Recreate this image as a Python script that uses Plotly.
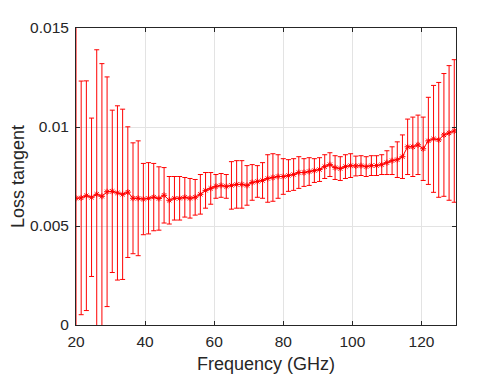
import plotly.graph_objects as go

freq_start = 20.0
freq_step = 1.5

loss_tangent = [
    0.0064, 0.00642, 0.00653, 0.00645, 0.0066, 0.0065, 0.00673, 0.00675, 0.00667, 0.0066,
    0.00671, 0.0064, 0.0064, 0.00636, 0.0064, 0.00646, 0.00639, 0.00655, 0.0063, 0.0064,
    0.0064, 0.00645, 0.0064, 0.00645, 0.0066, 0.0068, 0.0069, 0.0070, 0.00705, 0.0070,
    0.00705, 0.0071, 0.0071, 0.00705, 0.0072, 0.00725, 0.0073, 0.0074, 0.00745, 0.0075,
    0.0075, 0.00755, 0.0076, 0.0077, 0.0077, 0.00775, 0.0078, 0.00785, 0.0080, 0.0081,
    0.00795, 0.0079, 0.0080, 0.00805, 0.00803, 0.00805, 0.0080, 0.00805, 0.00805, 0.0081,
    0.0082, 0.0083, 0.00835, 0.0085, 0.0090, 0.0090, 0.0091, 0.0089, 0.0093, 0.0094,
    0.00935, 0.0096, 0.0097, 0.0098,
]
loss_err = [
    0.0092, 0.0059, 0.0058, 0.0040, 0.0073, 0.0067, 0.0058, 0.0041, 0.0044, 0.0043,
    0.0033, 0.0028, 0.0029, 0.0018, 0.0018, 0.0017, 0.0016, 0.0014, 0.0012, 0.0011,
    0.0011, 0.0010, 0.0010, 0.0009, 0.0010, 0.0009, 0.0008, 0.0006, 0.0006, 0.0006,
    0.0012, 0.0012, 0.0012, 0.0010, 0.0009, 0.0008, 0.0009, 0.0012, 0.0012, 0.0011,
    0.0009, 0.0008, 0.0008, 0.0008, 0.0007, 0.0007, 0.0006, 0.0006, 0.0006, 0.0006,
    0.0006, 0.0006, 0.0006, 0.0006, 0.0005, 0.0005, 0.0005, 0.0005, 0.0005, 0.0005,
    0.0006, 0.0007, 0.0009, 0.0011, 0.0014, 0.0015, 0.0015, 0.0016, 0.0022, 0.0027,
    0.0029, 0.0031, 0.0034, 0.0036,
]
frequency = [freq_start + freq_step * i for i in range(len(loss_tangent))]

x_ticks = [20, 40, 60, 80, 100, 120]
y_ticks = [0, 0.005, 0.01, 0.015]
y_tick_labels = ["0", "0.005", "0.01", "0.015"]

red = "#ff0000"
axis_col = "#262626"
grid_col = "#e3e3e3"
font_family = "Liberation Sans, Arial, Helvetica, sans-serif"

fig = go.Figure()
fig.add_trace(go.Scatter(
    x=frequency, y=loss_tangent,
    mode="lines+markers",
    line=dict(color=red, width=1),
    marker=dict(symbol="asterisk-open", size=5, color=red, line=dict(color=red, width=1)),
    error_y=dict(type="data", array=loss_err, visible=True, color=red, thickness=1, width=2.5),
    showlegend=False,
))

# page body has an 8px default margin, so the figure is offset by 8px
fig.update_layout(
    width=496, height=370,
    margin=dict(l=68, r=48, t=20, b=53),
    paper_bgcolor="white", plot_bgcolor="white",
    font=dict(family=font_family, size=15.5, color=axis_col),
)
fig.update_xaxes(
    range=[20, 130], tickvals=x_ticks,
    showgrid=True, gridcolor=grid_col, gridwidth=1,
    showline=True, linecolor=axis_col, linewidth=1, mirror="ticks",
    ticks="inside", ticklen=4, tickcolor=axis_col,
    zeroline=False, automargin=False,
    ticklabelstandoff=2,
    title=dict(text="Frequency (GHz)", font=dict(size=18, color=axis_col), standoff=8),
    tickfont=dict(size=15.5, color=axis_col),
)
fig.update_yaxes(
    range=[0, 0.015], tickvals=y_ticks, ticktext=y_tick_labels,
    showgrid=True, gridcolor=grid_col, gridwidth=1,
    showline=True, linecolor=axis_col, linewidth=1, mirror="ticks",
    ticks="inside", ticklen=4, tickcolor=axis_col,
    zeroline=False, automargin=False,
    ticklabelstandoff=3,
    title=dict(text="Loss tangent", font=dict(size=18, color=axis_col), standoff=13),
    tickfont=dict(size=15.5, color=axis_col),
)

fig.write_html("out.html")
